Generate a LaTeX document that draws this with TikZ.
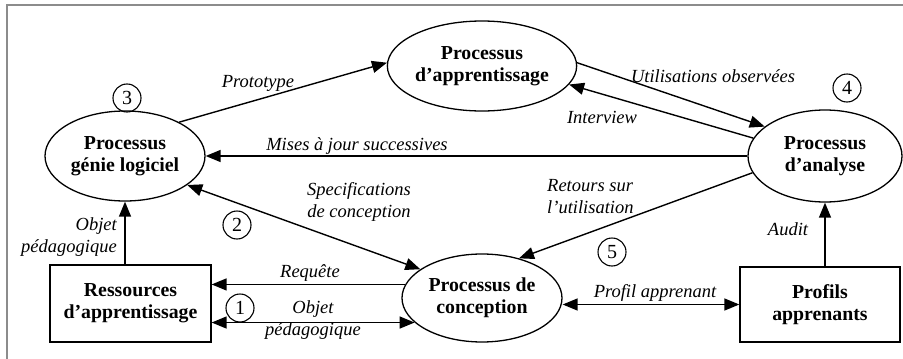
\documentclass[tikz,border=0pt]{standalone}
\usepackage{fontspec}
\setmainfont{Liberation Serif}
\usetikzlibrary{arrows.meta,shapes.geometric,calc}
\begin{document}
\begin{tikzpicture}[x=1pt,y=-1pt,
  proc/.style={ellipse,draw,line width=1.3pt,minimum width=160pt,minimum height=90pt,inner sep=0pt,align=center,font=\fontsize{19.8}{22}\selectfont\bfseries},
  boxnode/.style={rectangle,draw,line width=1.3pt,inner sep=0pt,align=center,font=\fontsize{19.8}{22}\selectfont\bfseries},
  lab/.style={inner sep=0pt,font=\fontsize{18.5}{22}\selectfont\itshape},
  num/.style={circle,draw,line width=1.1pt,minimum size=28pt,inner sep=0pt,font=\fontsize{20}{22}\selectfont},
  arr/.style={line width=1.4pt,-{Triangle[length=15pt,width=12pt]}},
  darr/.style={line width=1.4pt,{Triangle[length=15pt,width=12pt]}-{Triangle[length=15pt,width=12pt]}},
]
\useasboundingbox (0,0) rectangle (903,359);
\draw[line width=2pt, color=black!45] (7,359) -- (7,5) -- (903,5);

\node[proc] (app) at (482,66) {Processus\\d’apprentissage};
\node[proc] (gen) at (125,156) {Processus\\génie logiciel};
\node[proc,minimum width=154pt,minimum height=92pt] (ana) at (825,156) {Processus\\d’analyse};
\node[proc,minimum height=88pt] (con) at (482,298) {Processus de\\conception};
\node[boxnode,minimum width=161pt,minimum height=77pt] (res) at (130.5,303.5) {Ressources\\d’apprentissage};
\node[boxnode,minimum width=160pt,minimum height=75pt] (prof) at (820,304.5) {Profils\\apprenants};

\node[num] (n3) at (127,98) {3};
\node[num] (n4) at (847,88) {4};
\node[num] (n2) at (237,225) {2};
\node[num] (n1) at (240,308) {1};
\node[num] (n5) at (612,252) {5};

\draw[arr] (gen.32) -- (app.178);
\draw[arr] (app.2) -- (ana.154);
\draw[arr] (ana.166) -- (app.-12);
\draw[arr] (ana.west) -- (gen.east);
\draw[darr] (gen.-25) -- (con.155);
\draw[arr] (ana.193) -- (con.47);
\draw[arr] (prof.north -| ana.south) -- (ana.south);
\draw[darr] (con.east |- prof.west) -- (prof.west);
\draw[arr] (res.north -| gen.south) -- (gen.south);
\draw[arr] (con.170) -- (con.170 -| res.east);
\draw[darr] (con.200 -| res.east) -- (con.200);

\node[lab,anchor=base] (lproto) at (258,87) {Prototype};
\node[lab,anchor=base] (lutil) at (713,82) {Utilisations observées};
\node[lab,anchor=base] (linter) at (602,123) {Interview};
\node[lab,anchor=base] (lmaj) at (357,150) {Mises à jour successives};
\node[lab,align=center] (lspec) at (359,201.7) {Specifications\\de conception};
\node[lab,align=left,anchor=west] (lret) at (547,196.9) {Retours sur\\l’utilisation};
\node[lab,anchor=base] (laudit) at (788,235) {Audit};
\node[lab,anchor=base] (lprof) at (655,297) {Profil apprenant};
\node[lab,align=right,anchor=east] (lobj1) at (117,237.4) {Objet\\pédagogique};
\node[lab,anchor=base] (lreq) at (310,277) {Requête};
\node[lab,align=center] (lobj2) at (313,320) {Objet\\pédagogique};
\end{tikzpicture}
\end{document}
